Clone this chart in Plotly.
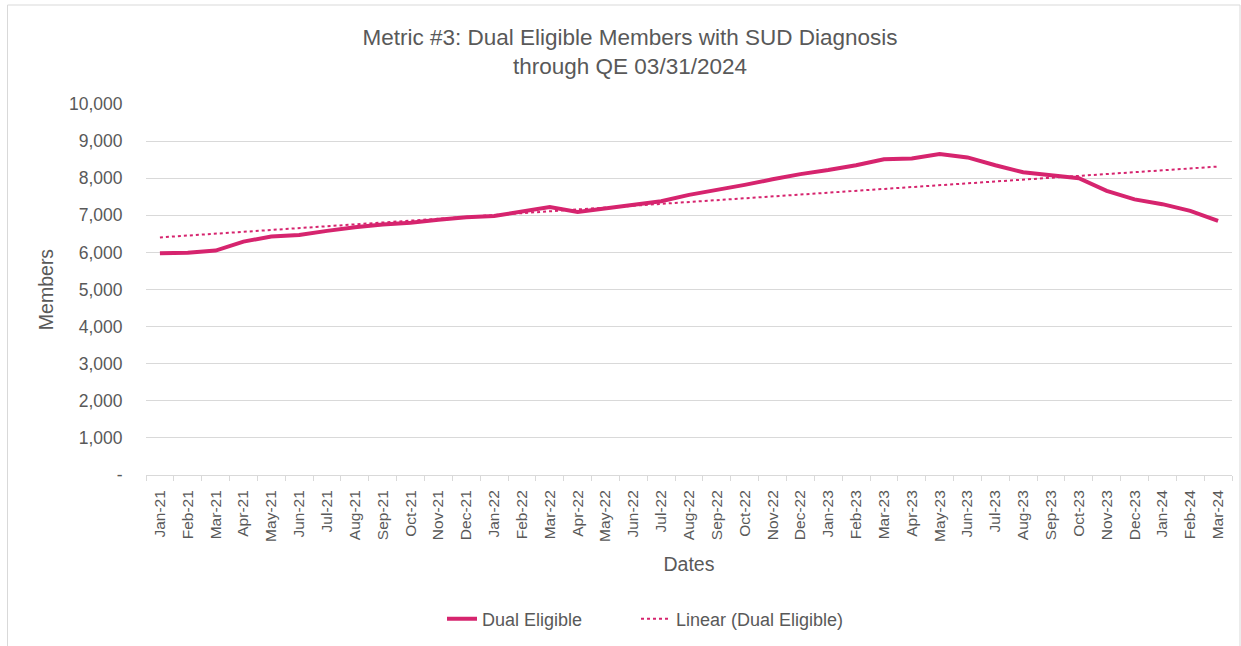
import numpy as np
import plotly.graph_objects as go

months = ["Jan-21","Feb-21","Mar-21","Apr-21","May-21","Jun-21","Jul-21","Aug-21","Sep-21","Oct-21","Nov-21","Dec-21",
          "Jan-22","Feb-22","Mar-22","Apr-22","May-22","Jun-22","Jul-22","Aug-22","Sep-22","Oct-22","Nov-22","Dec-22",
          "Jan-23","Feb-23","Mar-23","Apr-23","May-23","Jun-23","Jul-23","Aug-23","Sep-23","Oct-23","Nov-23","Dec-23",
          "Jan-24","Feb-24","Mar-24"]
dual_eligible = [5980, 5990, 6050, 6290, 6430, 6470, 6580, 6680, 6750, 6800, 6880, 6950,
                 6980, 7100, 7220, 7090, 7190, 7280, 7380, 7550, 7680, 7820, 7970, 8110,
                 8220, 8350, 8510, 8530, 8650, 8560, 8350, 8160, 8080, 8000, 7660, 7430,
                 7300, 7120, 6850]
y_tick_vals = [0, 1000, 2000, 3000, 4000, 5000, 6000, 7000, 8000, 9000, 10000]
y_tick_text = ["-", "1,000", "2,000", "3,000", "4,000", "5,000", "6,000", "7,000", "8,000", "9,000", "10,000"]

idx = np.arange(len(dual_eligible))
slope, intercept = np.polyfit(idx, dual_eligible, 1)
trend = intercept + slope * idx

color = "#D6246E"
gray = "#595959"
font = "Liberation Sans, Arial, sans-serif"

fig = go.Figure()
fig.add_trace(go.Scatter(x=months, y=dual_eligible, mode="lines", name="Dual Eligible",
                         line=dict(color=color, width=4), legend="legend"))
fig.add_trace(go.Scatter(x=months, y=trend, mode="lines", name="Linear (Dual Eligible)",
                         line=dict(color=color, width=2, dash="dot"), legend="legend2"))

legend_y = (475 - 619) / 371
fig.update_layout(
    width=1241, height=646,
    margin=dict(l=146, r=9, t=104, b=171),
    paper_bgcolor="white", plot_bgcolor="white",
    font=dict(family=font, color=gray, size=16),
    title=dict(text="Metric #3: Dual Eligible Members with SUD Diagnosis<br>through QE 03/31/2024",
               x=630/1241, xanchor="center", y=1-45/646, yanchor="top", yref="container",
               font=dict(size=22.5, color=gray, family=font)),
    showlegend=True,
    legend=dict(orientation="h", x=(442-146)/1086, xanchor="left", y=legend_y, yanchor="middle",
                font=dict(size=18, color=gray), bgcolor="rgba(0,0,0,0)"),
    legend2=dict(orientation="h", x=(636-146)/1086, xanchor="left", y=legend_y, yanchor="middle",
                 font=dict(size=18, color=gray), bgcolor="rgba(0,0,0,0)"),
    shapes=[dict(type="rect", xref="paper", yref="paper",
                 x0=(7.5-146)/1086, x1=(1240-146)/1086, y0=(475-660)/371, y1=(475-5)/371,
                 line=dict(color="#d9d9d9", width=1), fillcolor="rgba(0,0,0,0)", layer="below")],
)
fig.update_xaxes(type="category", range=[-0.5, len(months) - 0.5], tickangle=-90, showgrid=False,
                 showline=True, linecolor="#d9d9d9",
                 ticks="outside", tickson="boundaries", ticklen=5, tickcolor="#d9d9d9",
                 ticklabelstandoff=8,
                 tickfont=dict(size=15.5, color=gray),
                 title=dict(text="Dates", font=dict(size=19.5, color=gray), standoff=16))
fig.update_yaxes(range=[0, 10000], tickvals=y_tick_vals, ticktext=y_tick_text,
                 showgrid=True, gridcolor="#d9d9d9", gridwidth=1, zeroline=False, showline=False,
                 ticks="outside", ticklen=5, tickcolor="rgba(0,0,0,0)", ticklabelstandoff=14,
                 tickfont=dict(size=17.5, color=gray),
                 title=dict(text="Members", font=dict(size=19.5, color=gray), standoff=10))

fig.write_html("out.html", config={"displayModeBar": False},
               post_script="document.body.style.margin='0';")
